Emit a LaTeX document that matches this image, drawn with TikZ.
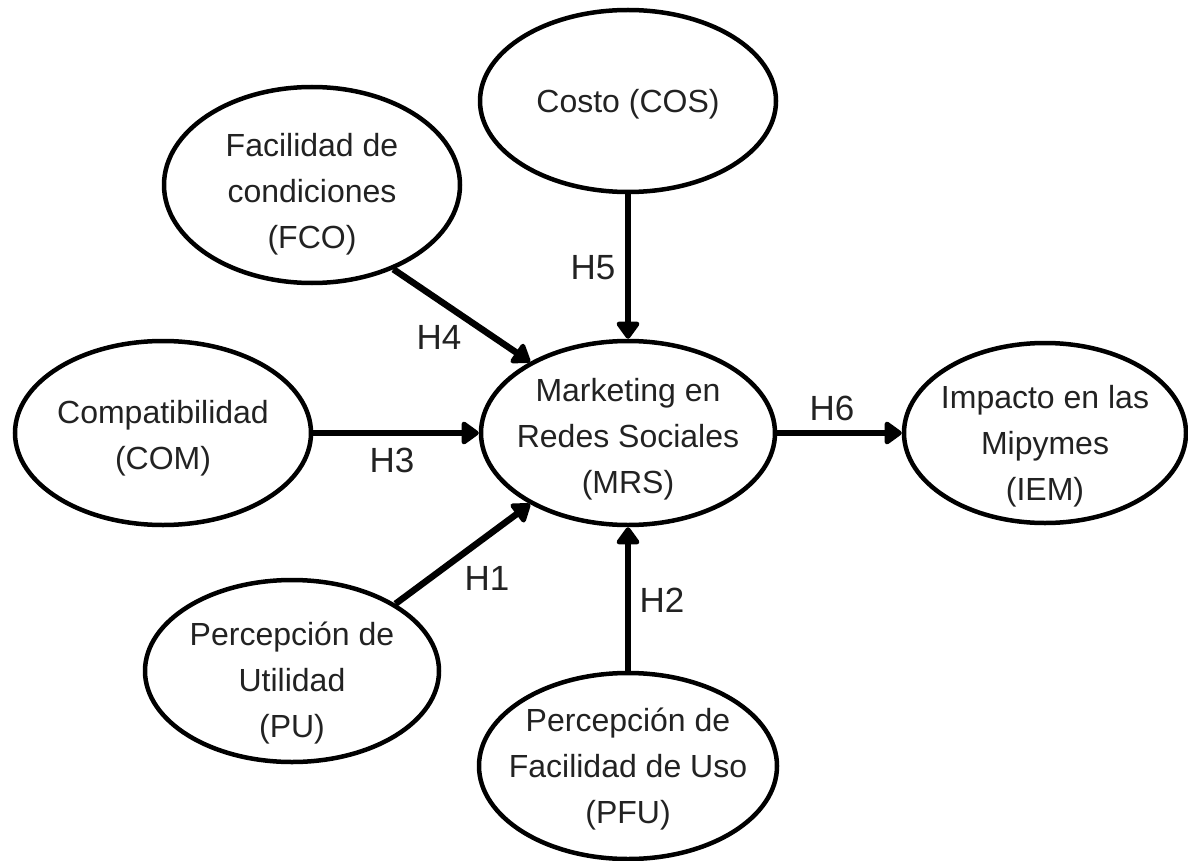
\documentclass[tikz,border=0pt]{standalone}
\usepackage{fontspec}
\setmainfont{Liberation Sans}
\usetikzlibrary{shapes.geometric,arrows.meta}
\definecolor{ink}{RGB}{34,34,34}
\begin{document}
\begin{tikzpicture}[x=1pt,y=-1pt,
  construct/.style={draw=black, line width=4.5pt, ellipse, inner sep=0pt},
  caption/.style={text=ink, align=center, inner sep=0pt,
    font=\fontsize{32}{46}\selectfont},
  hyp/.style={text=ink, inner sep=0pt, font=\fontsize{35}{40}\selectfont},
  link/.style={line width=6.5pt,
    -{Triangle[length=19pt,width=26pt,round]}}]
\useasboundingbox (0,0) rectangle (1188,861);

% constructs of the model
\node[construct, minimum width=296pt, minimum height=182pt] (cos) at (628,101) {};
\node[construct, minimum width=296pt, minimum height=196pt] (fco) at (312,185) {};
\node[construct, minimum width=296pt, minimum height=184pt] (com) at (163,433) {};
\node[construct, minimum width=294pt, minimum height=184pt] (mrs) at (628,433) {};
\node[construct, minimum width=282pt, minimum height=180pt] (iem) at (1045,433) {};
\node[construct, minimum width=294pt, minimum height=182pt] (pu)  at (292,671) {};
\node[construct, minimum width=298pt, minimum height=186pt] (pfu) at (628,766) {};

% construct names
\node[caption, yshift=-3pt]  (cos-t) at (cos) {Costo (COS)};
\node[caption, yshift=-9pt]  (fco-t) at (fco) {Facilidad de\\condiciones\\(FCO)};
\node[caption, yshift=-5pt]  (com-t) at (com) {Compatibilidad\\(COM)};
\node[caption, yshift=-6pt]  (mrs-t) at (mrs) {Marketing en\\Redes Sociales\\(MRS)};
\node[caption, yshift=-13pt] (iem-t) at (iem) {Impacto en las\\Mipymes\\(IEM)};
\node[caption, yshift=-12pt] (pu-t)  at (pu)  {Percepción de\\Utilidad\\(PU)};
\node[caption, yshift=-3pt]  (pfu-t) at (pfu) {Percepción de\\Facilidad de Uso\\(PFU)};

% hypotheses
\draw[link] (pu.33.4) -- (mrs.-144.5);
\draw[link] (pfu) -- (mrs);
\draw[link] (com) -- (mrs);
\draw[link] (fco.-46.4) -- (mrs.144.6);
\draw[link] (cos) -- (mrs);
\draw[link] (mrs) -- (iem);

% hypothesis labels
\node[hyp] (h1) at (487,578) {H1};
\node[hyp] (h2) at (662,600) {H2};
\node[hyp] (h3) at (392,460) {H3};
\node[hyp] (h4) at (439,337) {H4};
\node[hyp] (h5) at (593,268) {H5};
\node[hyp] (h6) at (832,408) {H6};
\end{tikzpicture}
\end{document}
